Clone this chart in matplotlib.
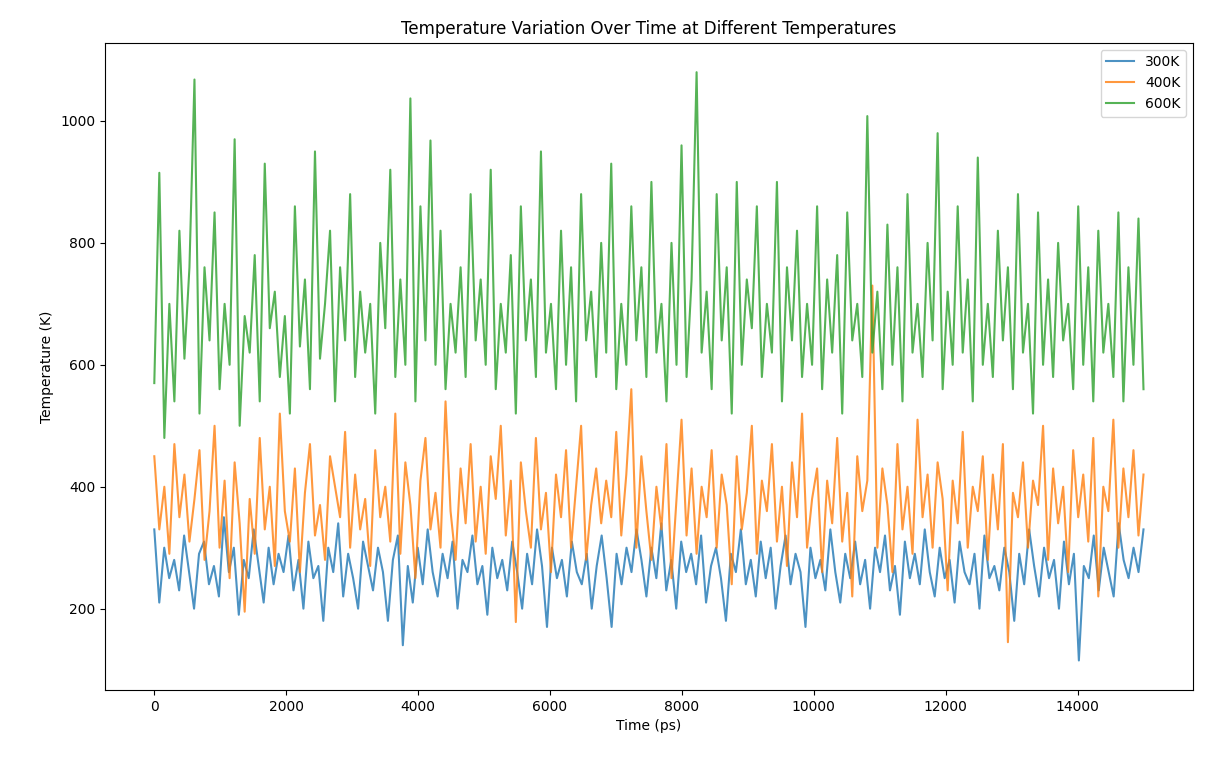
import numpy as np
import matplotlib
matplotlib.use("Agg")
import matplotlib.pyplot as plt

# values, evenly spaced over 0..15000 ps
t300 = [330, 210, 300, 250, 280, 230, 320, 260, 200, 290, 310, 240, 270, 220, 350, 260,
        300, 190, 280, 250, 330, 270, 210, 300, 240, 290, 260, 320, 230, 280, 200, 310,
        250, 270, 180, 300, 260, 340, 220, 290, 250, 200, 310, 270, 230, 300, 260, 180,
        280, 320, 140, 270, 210, 300, 240, 330, 260, 220, 290, 250, 310, 200, 280, 260,
        320, 240, 270, 190, 300, 250, 280, 230, 310, 260, 200, 290, 240, 330, 270, 170,
        300, 250, 280, 220, 310, 260, 240, 290, 200, 270, 320, 250, 170, 290, 240, 300,
        260, 330, 280, 220, 300, 250, 340, 230, 280, 200, 310, 260, 290, 240, 320, 210,
        270, 300, 250, 180, 290, 260, 330, 240, 280, 220, 310, 250, 300, 200, 270, 320,
        240, 290, 260, 170, 300, 250, 280, 230, 330, 260, 210, 290, 250, 310, 240, 280,
        200, 300, 260, 320, 230, 270, 190, 310, 250, 290, 240, 330, 260, 220, 300, 250,
        280, 210, 310, 260, 240, 290, 200, 320, 250, 270, 230, 300, 260, 180, 290, 240,
        330, 270, 220, 300, 250, 280, 200, 310, 240, 290, 115, 270, 250, 320, 230, 300,
        260, 220, 340, 280, 250, 300, 260, 330]
t400 = [450, 330, 400, 290, 470, 350, 420, 310, 380, 460, 280, 360, 500, 300, 410, 250,
        440, 340, 195, 380, 290, 480, 330, 400, 270, 520, 360, 310, 430, 260, 390, 470,
        320, 370, 280, 450, 400, 350, 490, 300, 420, 330, 380, 270, 460, 350, 400, 310,
        520, 290, 440, 370, 250, 410, 480, 330, 390, 300, 540, 360, 280, 430, 340, 470,
        310, 400, 290, 450, 380, 500, 320, 410, 178, 440, 360, 300, 480, 330, 390, 260,
        420, 350, 460, 300, 400, 500, 280, 370, 430, 340, 410, 350, 490, 320, 420, 560,
        300, 450, 360, 280, 400, 330, 470, 250, 380, 510, 320, 430, 290, 400, 350, 460,
        300, 420, 370, 240, 450, 330, 390, 500, 290, 410, 360, 470, 310, 400, 270, 440,
        350, 520, 300, 380, 430, 260, 410, 340, 480, 310, 390, 220, 450, 360, 410, 730,
        300, 430, 370, 260, 470, 330, 400, 290, 510, 350, 420, 300, 440, 380, 230, 410,
        340, 490, 300, 400, 360, 450, 280, 420, 330, 470, 145, 390, 350, 440, 300, 410,
        370, 500, 280, 430, 340, 400, 260, 460, 350, 420, 310, 480, 220, 400, 360, 510,
        300, 430, 350, 460, 320, 420]
t600 = [570, 915, 480, 700, 540, 820, 610, 760, 1068, 520, 760, 640, 850, 560, 700, 600,
        970, 500, 680, 620, 780, 540, 930, 660, 720, 580, 680, 520, 860, 630, 740, 560,
        950, 610, 700, 820, 540, 760, 640, 880, 580, 720, 620, 700, 520, 800, 660, 920,
        580, 740, 600, 1037, 540, 860, 640, 968, 600, 820, 560, 700, 620, 760, 580, 880,
        640, 740, 600, 920, 560, 700, 620, 780, 520, 860, 640, 740, 580, 950, 620, 700,
        560, 820, 600, 760, 540, 880, 640, 720, 580, 800, 620, 930, 560, 700, 600, 860,
        640, 760, 580, 900, 620, 700, 540, 800, 600, 960, 580, 740, 1080, 620, 720, 560,
        880, 640, 760, 520, 900, 600, 740, 660, 860, 580, 700, 620, 900, 540, 760, 640,
        820, 580, 700, 600, 860, 560, 740, 620, 780, 520, 850, 640, 700, 580, 1008, 620,
        720, 560, 830, 600, 760, 540, 880, 620, 700, 580, 800, 640, 980, 560, 720, 600,
        860, 620, 740, 540, 940, 600, 700, 580, 820, 640, 760, 560, 880, 620, 700, 520,
        850, 600, 740, 580, 800, 640, 700, 560, 860, 600, 760, 540, 820, 620, 700, 580,
        850, 540, 760, 600, 840, 560]

time300 = np.linspace(0, 15000, len(t300))
time400 = np.linspace(0, 15000, len(t400))
time600 = np.linspace(0, 15000, len(t600))

fig, ax = plt.subplots(figsize=(12.05, 7.64), dpi=100)
ax.plot(time300, t300, label="300K", alpha=0.8)
ax.plot(time400, t400, label="400K", alpha=0.8)
ax.plot(time600, t600, label="600K", alpha=0.8)
ax.set_xlabel("Time (ps)")
ax.set_ylabel("Temperature (K)")
ax.set_title("Temperature Variation Over Time at Different Temperatures")
ax.legend(loc="upper right")
fig.subplots_adjust(left=0.087, right=0.99, top=0.944, bottom=0.097)
fig.savefig("out.png", dpi=100)
